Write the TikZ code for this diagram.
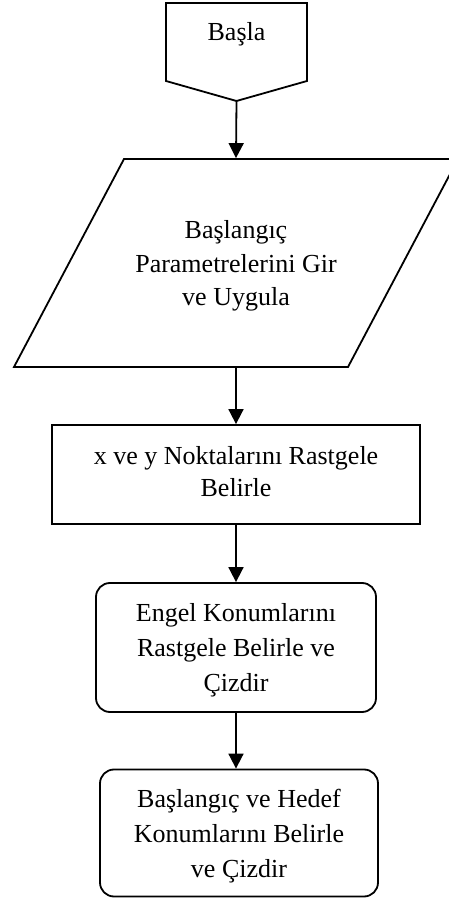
\documentclass[tikz,border=0pt]{standalone}
\usepackage{fontspec}
\setmainfont{Liberation Serif}
\usetikzlibrary{arrows.meta}

\begin{document}
\begin{tikzpicture}[x = 1pt, y = 1pt,
    txt/.style = {align = center, font = \fontsize{26}{35}\selectfont},
    box/.style = {txt, draw = black, line width = 1.8pt, inner sep = 0pt, text depth = -7pt},
    flow/.style = {line width = 1.8pt, -{Triangle[length = 15pt, width = 15pt]}}]

    \useasboundingbox (0,0) rectangle (448,898);

    \node [minimum width = 141pt, minimum height = 78pt, outer sep = 0pt] (start) at (236.5,856) {};
    \draw [line width = 1.8pt] (start.north west) -- (start.north east) -- (start.south east)
        -- (236.5,797) coordinate (tip) -- (start.south west) -- cycle;
    \node [txt] (startlabel) at (236.5,864) {Başla};

    \node [txt, font = \fontsize{26}{33.5}\selectfont, text depth = -2pt, minimum height = 208pt,
        inner sep = 0pt, outer sep = 0.9pt] (params) at (236,635)
        {Başlangıç\\Parametrelerini Gir\\ve Uygula};
    \draw [line width = 1.8pt] (params.south) ++(-222,0.9) -- ++(334,0) -- ++(110,208) -- ++(-334,0) -- cycle;

    \node [box, font = \fontsize{26}{32}\selectfont, text depth = 7pt,
        minimum width = 368pt, minimum height = 99pt] (points) at (236,423.5)
        {x ve y Noktalarını Rastgele\\Belirle};

    \node [box, rounded corners = 14pt, minimum width = 280pt, minimum height = 129pt] (obstacles) at (236,250.5)
        {Engel Konumlarını\\Rastgele Belirle ve\\Çizdir};

    \node [box, rounded corners = 14pt, minimum width = 278pt, minimum height = 127pt] (targets) at (239,65)
        {Başlangıç ve Hedef\\Konumlarını Belirle\\ve Çizdir};

    \draw [flow] (tip) -- (params.north);
    \draw [flow] (params.south) -- (points.north);
    \draw [flow] (points.south) -- (obstacles.north);
    \draw [flow] (obstacles.south) -- (obstacles.south |- targets.north);
\end{tikzpicture}
\end{document}
